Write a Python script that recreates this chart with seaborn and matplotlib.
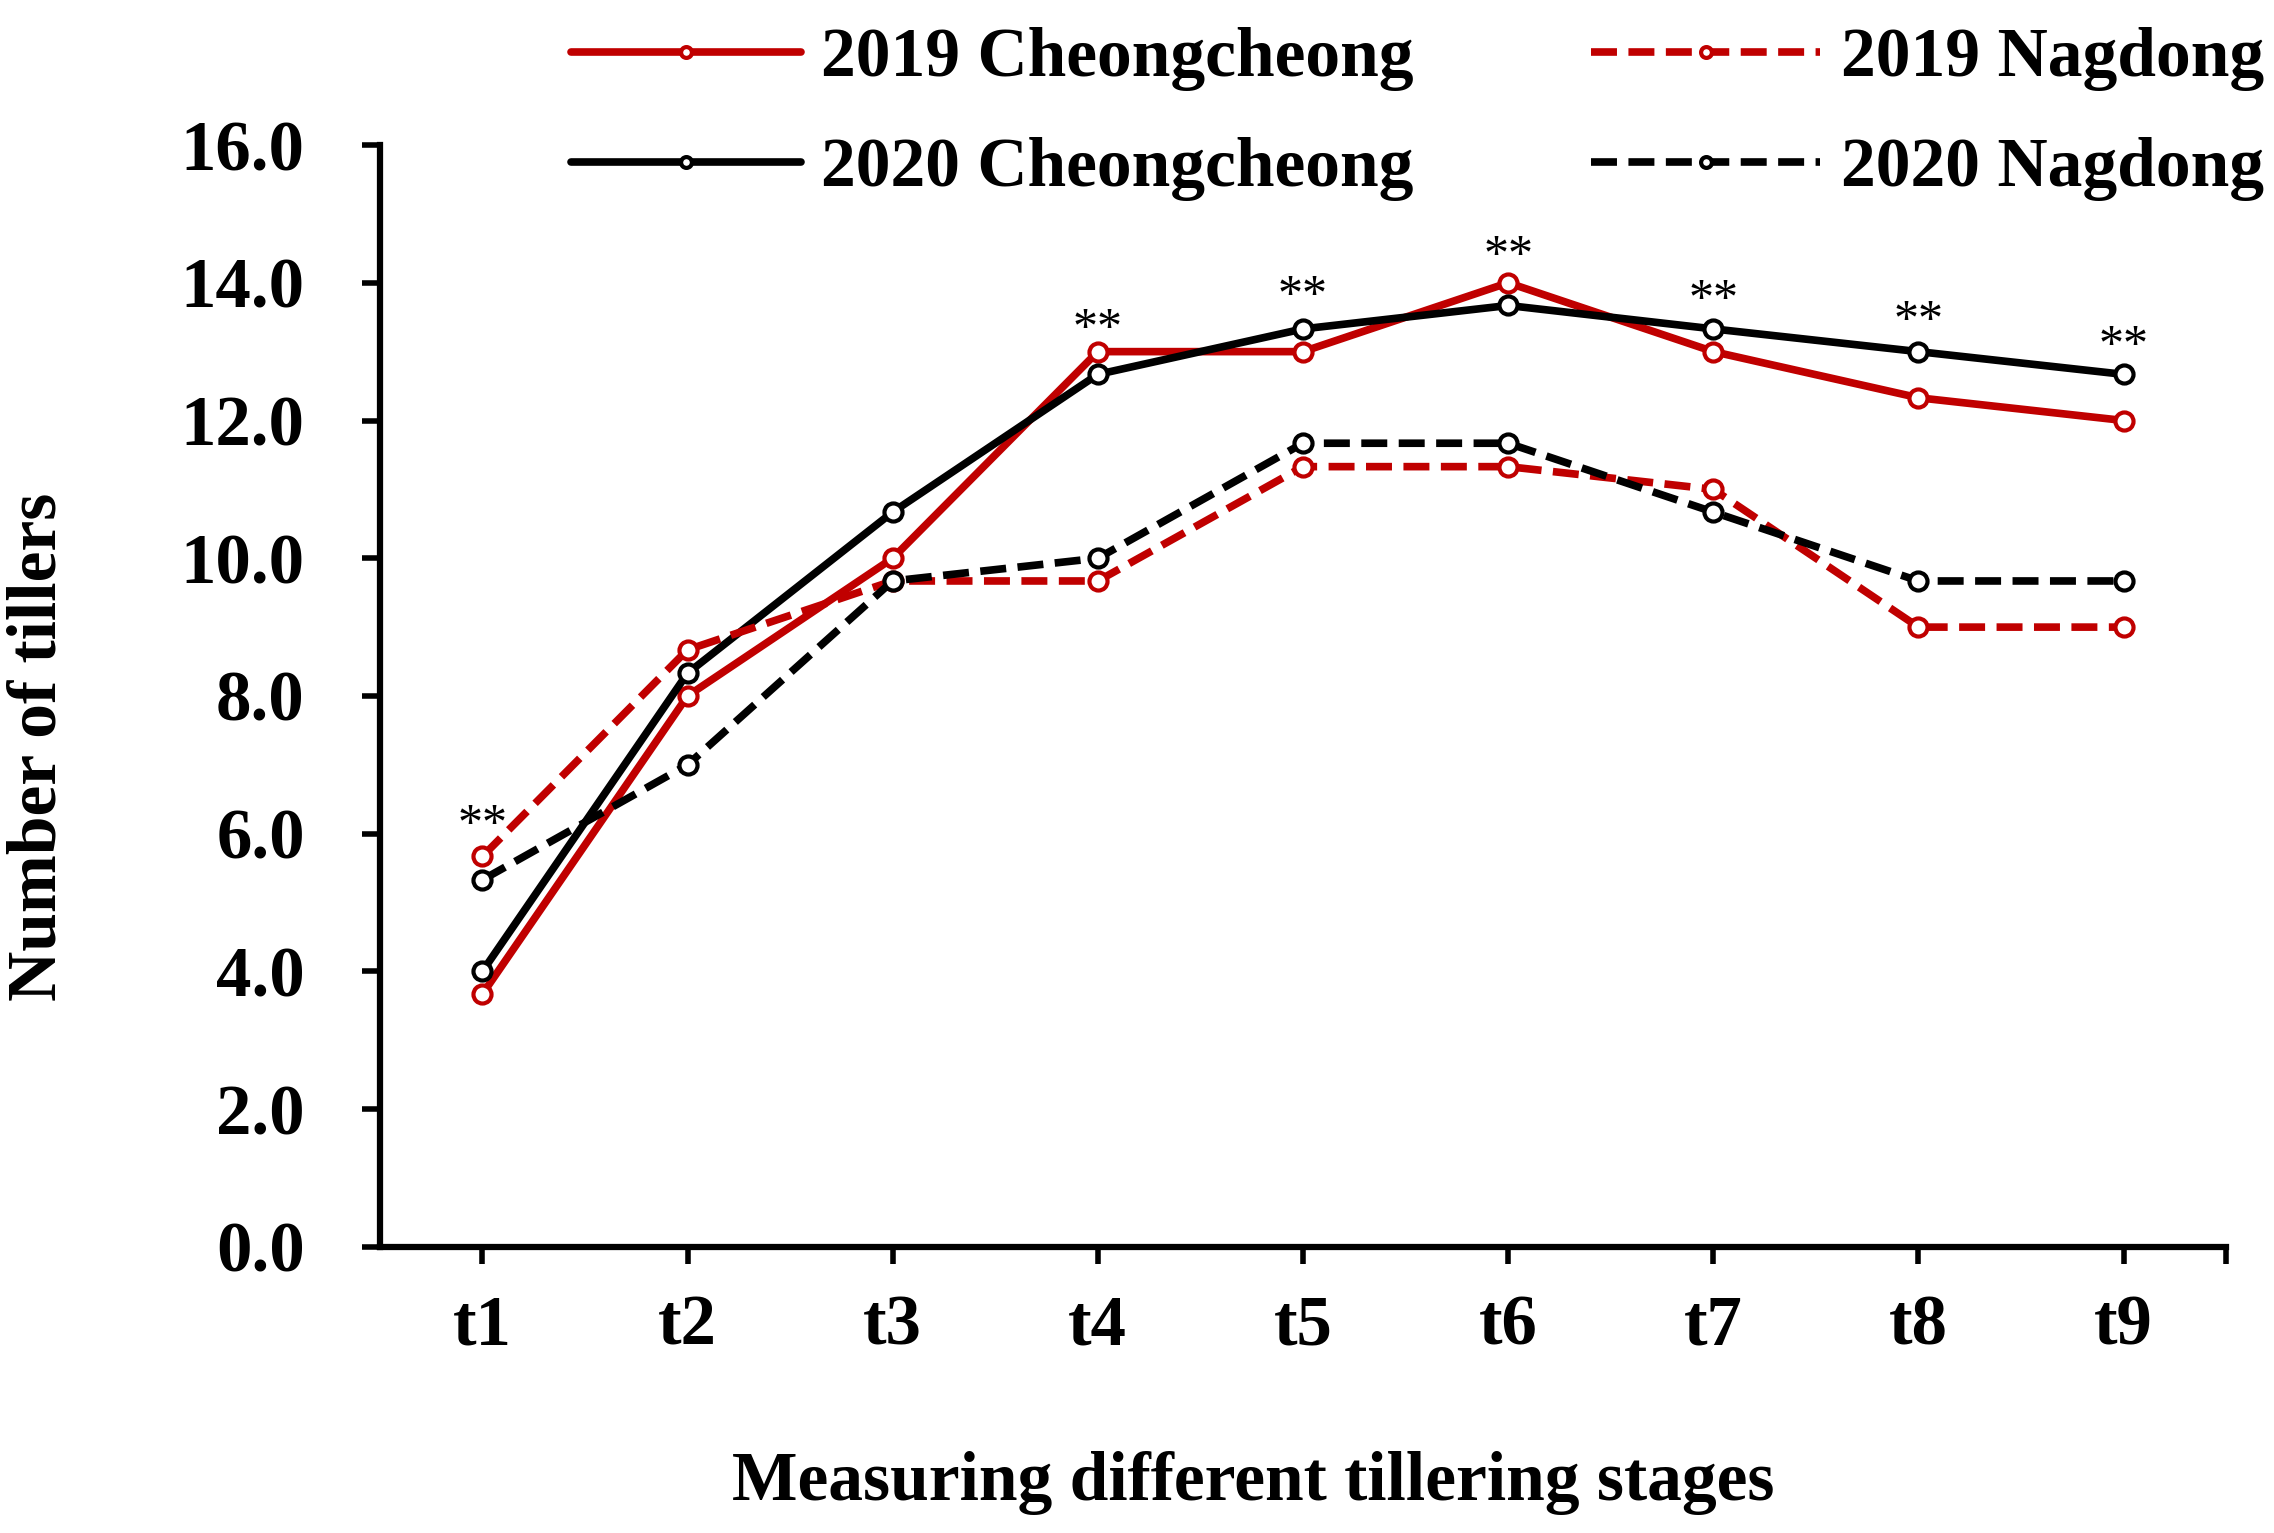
import matplotlib
matplotlib.use("Agg")
import matplotlib.pyplot as plt
import numpy as np
import pandas as pd
import seaborn as sns

# === Данные ===
stages = ["t1", "t2", "t3", "t4", "t5", "t6", "t7", "t8", "t9"]
cheong_2019 = [3.67, 8.0, 10.0, 13.0, 13.0, 14.0, 13.0, 12.33, 12.0]
cheong_2020 = [4.0, 8.33, 10.67, 12.67, 13.33, 13.67, 13.33, 13.0, 12.67]
nagdong_2019 = [5.67, 8.67, 9.67, 9.67, 11.33, 11.33, 11.0, 9.0, 9.0]
nagdong_2020 = [5.33, 7.0, 9.67, 10.0, 11.67, 11.67, 10.67, 9.67, 9.67]

# значимость (**) над точками
star_stages = ["t1", "t4", "t5", "t6", "t7", "t8", "t9"]
star_y = [6.12, 13.32, 13.8, 14.38, 13.74, 13.43, 13.07]

red = "#C00000"
black = "#000000"

series = [
    ("2019 Cheongcheong", cheong_2019, red, "-"),
    ("2020 Cheongcheong", cheong_2020, black, "-"),
    ("2019 Nagdong", nagdong_2019, red, "--"),
    ("2020 Nagdong", nagdong_2020, black, "--"),
]

sns.set_style("ticks")
plt.rcParams["font.family"] = ["Liberation Serif", "DejaVu Serif"]
plt.rcParams.update({
    "text.color": "black", "axes.labelcolor": "black",
    "xtick.color": "black", "ytick.color": "black", "axes.edgecolor": "black",
})

fig = plt.figure(figsize=(22.74, 15.33), dpi=100)
ax = fig.add_axes([0.167, 0.1866, 0.812, 0.7188])

pos = np.arange(len(stages))
for name, vals, color, ls in series:
    df = pd.DataFrame({"pos": pos, "tillers": vals})
    sns.lineplot(
        data=df, x="pos", y="tillers", ax=ax, color=color, label=name,
        linewidth=5.5, marker="o", markersize=13, markerfacecolor="white",
        markeredgecolor=color, markeredgewidth=3, linestyle=ls,
    )
for ln in ax.get_lines():
    if ln.get_linestyle() == "--":
        ln.set_dashes((3.4, 1.5))

# звёздочки
for st, y in zip(star_stages, star_y):
    ax.text(stages.index(st), y, "**", ha="center", va="center",
            fontsize=36, color="black")

ax.set_xlim(-0.5, 8.5)
ax.set_ylim(0, 16)
ax.set_xticks(pos, stages)
ax.set_xticks([8.5], minor=True)
ax.set_yticks(np.arange(0, 16.1, 2.0))
ax.set_yticklabels([f"{v:.1f}" for v in np.arange(0, 16.1, 2.0)])

for lab in ax.get_xticklabels() + ax.get_yticklabels():
    lab.set_fontweight("bold")
ax.tick_params(axis="y", labelsize=51, length=13, width=4, pad=41)
ax.tick_params(axis="x", labelsize=51, length=12, width=4, pad=22)
ax.tick_params(axis="x", which="minor", length=12, width=4)

sns.despine(ax=ax)
for sp in ["left", "bottom"]:
    ax.spines[sp].set_linewidth(4.5)

ax.set_xlabel("Measuring different tillering stages", fontsize=50, fontweight="bold")
ax.set_ylabel("Number of tillers", fontsize=50, fontweight="bold")
ax.xaxis.label.set_va("center")
ax.yaxis.label.set_va("center")
ax.xaxis.set_label_coords(0.473, -0.214)
ax.yaxis.set_label_coords(-0.185, 0.454)

handles, labels = ax.get_legend_handles_labels()
ax.get_legend().remove()
fig.legend(
    handles, labels, ncol=2, loc="upper left", bbox_to_anchor=(0.236, 1.005),
    frameon=False, borderpad=0, handlelength=3.3,
    handletextpad=0.3, columnspacing=2.55, labelspacing=0.66,
    prop={"weight": "bold", "size": 50}, markerscale=0.6,
)

fig.savefig("out.png", dpi=100, facecolor="white")
